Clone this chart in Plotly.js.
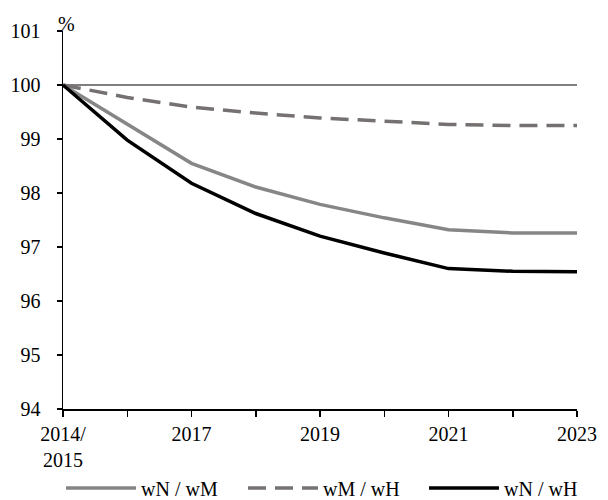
<!DOCTYPE html>
<html>
<head>
<meta charset="utf-8">
<script src="https://cdn.plot.ly/plotly-3.0.1.min.js"></script>
<style>html,body{margin:0;padding:0;background:#fff;}#chart{width:608px;height:500px;}</style>
</head>
<body>
<div id="chart"></div>
<script>
const categories = ["2014/2015","2016","2017","2018","2019","2020","2021","2022","2023"];
const tickLabels = ["2014/<br>2015","","2017","","2019","","2021","","2023"];
const wN_wM = [100, 99.28, 98.55, 98.11, 97.79, 97.54, 97.32, 97.26, 97.26];
const wM_wH = [100, 99.77, 99.59, 99.48, 99.39, 99.33, 99.27, 99.25, 99.25];
const wN_wH = [100, 98.98, 98.18, 97.62, 97.20, 96.89, 96.60, 96.55, 96.54];
const seriesNames = ["wN / wM", "wM / wH", "wN / wH"];

const font = {family: "Liberation Serif", size: 20, color: "#000"};

const traces = [
  {x: categories, y: wN_wM, name: seriesNames[0], type: "scatter", mode: "lines",
   line: {color: "#868686", width: 3.5}, legend: "legend"},
  {x: categories, y: wM_wH, name: seriesNames[1], type: "scatter", mode: "lines",
   line: {color: "#767171", width: 3.5, dash: "18px,9px"}, legend: "legend2"},
  {x: categories, y: wN_wH, name: seriesNames[2], type: "scatter", mode: "lines",
   line: {color: "#000000", width: 3.5}, legend: "legend3"}
];

function leg(px) {
  return {orientation: "h", xref: "container", x: px / 608, xanchor: "left",
          yref: "container", y: 12 / 500, yanchor: "middle",
          itemwidth: 70, font: font, bgcolor: "rgba(0,0,0,0)", borderwidth: 0};
}

const layout = {
  width: 608, height: 500,
  margin: {l: 63, r: 31, t: 31, b: 91},
  paper_bgcolor: "#fff", plot_bgcolor: "#fff",
  font: font,
  showlegend: true,
  legend: leg(61),
  legend2: leg(243),
  legend3: leg(424),
  xaxis: {type: "category", range: [0, 8], showgrid: false, zeroline: false,
          showline: true, linecolor: "#000", linewidth: 1.5,
          ticks: "outside", ticklen: 6, tickwidth: 1.5, tickcolor: "#000",
          tickvals: categories, ticktext: tickLabels, tickangle: 0, tickfont: font},
  yaxis: {range: [94, 101], dtick: 1, showgrid: false, zeroline: false,
          showline: true, linecolor: "#000", linewidth: 1.5,
          ticks: "outside", ticklen: 5, tickwidth: 1.5, tickcolor: "#000",
          ticklabelstandoff: 12, tickfont: font},
  shapes: [{type: "line", xref: "paper", x0: 0, x1: 1, yref: "y", y0: 100, y1: 100,
            line: {color: "#000", width: 1.2}, layer: "below"}],
  annotations: [{text: "%", xref: "paper", x: 0, xanchor: "center", xshift: 3,
                 yref: "paper", y: 1, yanchor: "bottom", yshift: -6,
                 showarrow: false, font: font}]
};

Plotly.newPlot("chart", traces, layout, {staticPlot: true, displayModeBar: false});
</script>
</body>
</html>
